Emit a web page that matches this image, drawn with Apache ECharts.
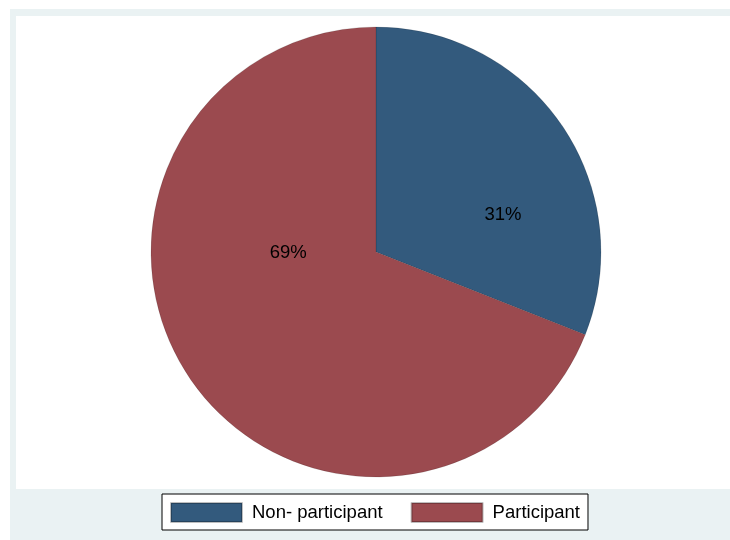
<!DOCTYPE html>
<html>
<head>
<meta charset="utf-8">
<script src="https://cdn.jsdelivr.net/npm/echarts@6/dist/echarts.min.js"></script>
<style>html,body{margin:0;padding:0;background:#fff;}#c{width:730px;height:540px;}</style>
</head>
<body>
<div id="c"></div>
<script>
const categories = ['Non- participant', 'Participant'];
const values = [31, 69];
const colors = ['#335A7D', '#9B4A4F'];
// label placement (angle clockwise from 12 o'clock in degrees, distance as fraction of radius)
const labelAngles = [73, 271];
const labelDist = [0.59, 0.39];

const cx = 376, cy = 252, R = 225;
const chart = echarts.init(document.getElementById('c'), null, {renderer: 'canvas'});
chart.setOption({
  animation: false,
  backgroundColor: '#ffffff',
  graphic: [
    {type: 'rect', z: -10, shape: {x: 10, y: 9, width: 720, height: 531}, style: {fill: '#EAF2F3'}},
    {type: 'rect', z: -9, shape: {x: 16, y: 16, width: 714, height: 473}, style: {fill: '#ffffff'}}
  ],
  legend: {
    bottom: 10,
    left: 162,
    height: 35,
    itemWidth: 71,
    itemHeight: 19,
    itemGap: 28,
    padding: [8, 8, 7, 8],
    borderColor: '#000',
    borderWidth: 1,
    backgroundColor: '#fff',
    icon: 'rect',
    textStyle: {fontFamily: 'Liberation Sans, Arial', fontSize: 18.5, color: '#000', padding: [0, 0, 0, 5]},
    data: categories
  },
  series: [{
    type: 'pie',
    center: [cx, cy],
    radius: [0, R],
    startAngle: 90,
    clockwise: true,
    silent: true,
    itemStyle: {borderWidth: 0.5, borderColor: 'rgba(0,0,0,0.25)'},
    label: {
      show: true,
      position: 'inside',
      formatter: p => Math.round(p.percent) + '%',
      fontFamily: 'Liberation Sans, Arial',
      fontSize: 18.5,
      color: '#000'
    },
    labelLine: {show: false},
    labelLayout: function (params) {
      const i = params.dataIndex;
      const a = labelAngles[i] * Math.PI / 180;
      const d = labelDist[i] * R;
      return {x: cx + d * Math.sin(a), y: cy - d * Math.cos(a) + 2, align: 'center', verticalAlign: 'middle'};
    },
    data: categories.map((n, i) => ({name: n, value: values[i], itemStyle: {color: colors[i]}}))
  }]
});
</script>
</body>
</html>
